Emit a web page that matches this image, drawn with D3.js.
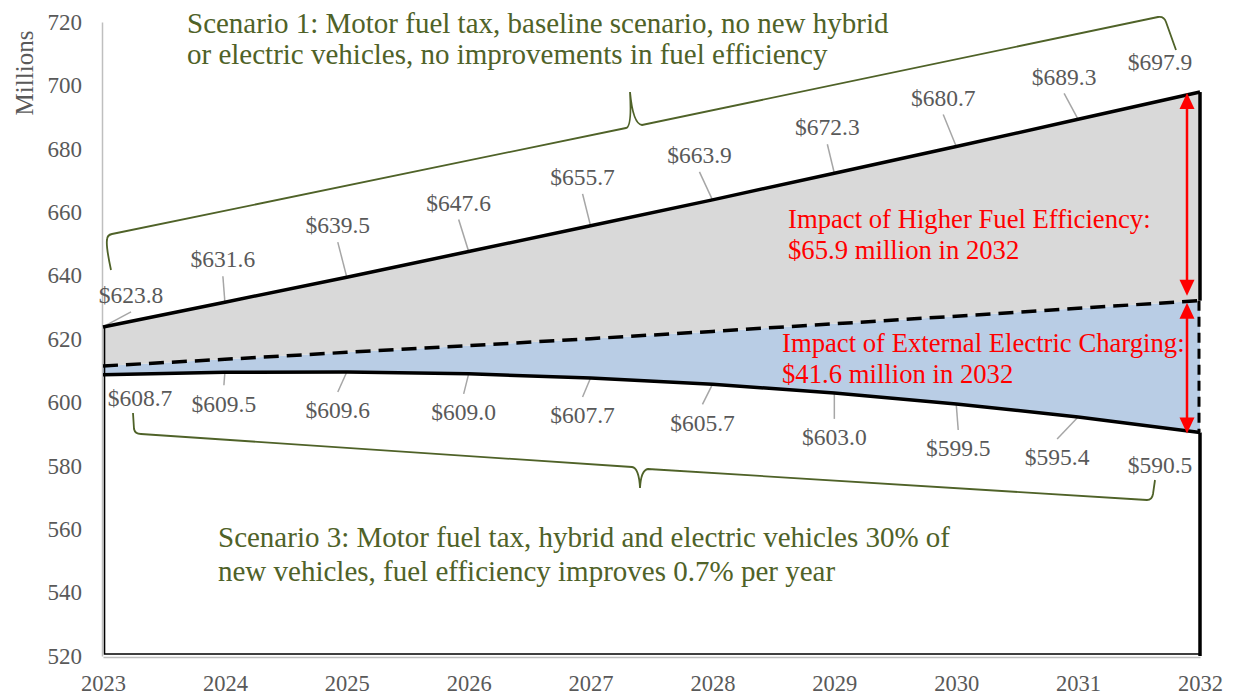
<!DOCTYPE html>
<html>
<head>
<meta charset="utf-8">
<script src="https://cdn.jsdelivr.net/npm/d3@7"></script>
<style>
  html, body { margin: 0; padding: 0; background: #fff; }
  svg { display: block; font-family: "Liberation Serif", "Times New Roman", serif; }
  svg text { font-family: "Liberation Serif", "Times New Roman", serif; }
</style>
</head>
<body>
<svg id="chart" width="1234" height="696"></svg>
<script>
// ---------------- data ----------------
const years = [2023, 2024, 2025, 2026, 2027, 2028, 2029, 2030, 2031, 2032];
// Scenario 1: baseline (top line)
const scenario1 = [623.8, 631.6, 639.5, 647.6, 655.7, 663.9, 672.3, 680.7, 689.3, 697.9];
// Scenario 2: dashed line (no labels)
const scenario2 = [611.5, 613.6, 615.8, 617.9, 620.1, 622.4, 624.8, 627.2, 629.7, 632.1];
// Scenario 3: bottom line
const scenario3 = [608.7, 609.5, 609.6, 609.0, 607.7, 605.7, 603.0, 599.5, 595.4, 590.5];
const yTicks = [520, 540, 560, 580, 600, 620, 640, 660, 680, 700, 720];
const yDomain = [520, 720];

const scenario1Text = ["Scenario 1: Motor fuel tax, baseline scenario, no new hybrid",
                       "or electric vehicles, no improvements in fuel efficiency"];
const scenario3Text = ["Scenario 3: Motor fuel tax, hybrid and electric vehicles 30% of",
                       "new vehicles, fuel efficiency improves 0.7% per year"];
const impact1Text = ["Impact of Higher Fuel Efficiency:", "$65.9 million in 2032"];
const impact2Text = ["Impact of External Electric Charging:", "$41.6 million in 2032"];

// label placement (pixel offsets from each point to the label centre)
const topLabelOffsets = [[28,-32],[-2,-43],[-9,-52],[-10,-49],[-8,-49],[-13,-45],[-7,-46],[-13,-49],[-14,-43],[-40,-30]];
const topLeader =       [true,true,true,true,true,true,true,true,true,false];
const botLabelOffsets = [[37,23],[-1,31],[-9,38],[-5,38],[-8,37],[-10,38],[0,44],[2,44],[-21,40],[-40,32]];
const botLeader =       [false,true,true,true,true,true,true,true,true,false];

// ---------------- layout ----------------
const svg = d3.select("#chart");
const x = d3.scaleLinear().domain([2023, 2032]).range([103, 1200]);
const y = d3.scaleLinear().domain(yDomain).range([656, 22]);

const GREEN = "#4f6228", GREY_TXT = "#595959", RED = "#ff0000";

const rows = years.map((yr, i) => ({yr, s1: scenario1[i], s2: scenario2[i], s3: scenario3[i], i}));

// white area (scenario 3 down to axis)
svg.append("path")
  .datum(rows)
  .attr("d", d3.area().x(d => x(d.yr)).y0(y(520)).y1(d => y(d.s3)))
  .attr("fill", "#fff");

// blue area (between scenario 3 and scenario 2)
svg.append("path")
  .datum(rows)
  .attr("d", d3.area().x(d => x(d.yr)).y0(d => y(d.s3)).y1(d => y(d.s2)))
  .attr("fill", "#b9cde5");

// grey area (between scenario 2 and scenario 1)
svg.append("path")
  .datum(rows)
  .attr("d", d3.area().x(d => x(d.yr)).y0(d => y(d.s2)).y1(d => y(d.s1)))
  .attr("fill", "#d9d9d9");

// left / bottom thin black outline of the stacked areas
svg.append("path")
  .attr("d", `M${x(2023)+1.5},${y(scenario1[0])} L${x(2023)+1.5},${y(520)-2} L${x(2032)},${y(520)-2}`)
  .attr("fill", "none").attr("stroke", "#000").attr("stroke-width", 1.6);

// right edges at 2032
const xr = x(2032);
svg.append("line").attr("x1", xr).attr("x2", xr).attr("y1", y(scenario1[9])).attr("y2", y(scenario2[9]))
  .attr("stroke", "#000").attr("stroke-width", 3.5);
svg.append("line").attr("x1", xr-1).attr("x2", xr-1).attr("y1", y(scenario2[9])).attr("y2", y(scenario3[9]))
  .attr("stroke", "#000").attr("stroke-width", 3).attr("stroke-dasharray", "10,6");
svg.append("line").attr("x1", xr).attr("x2", xr).attr("y1", y(scenario3[9])).attr("y2", y(520))
  .attr("stroke", "#000").attr("stroke-width", 3.5);

// axes
const yAxis = svg.append("g").attr("transform", `translate(${x(2023)-1},0)`)
  .call(d3.axisLeft(y).tickValues(yTicks).tickSize(0).tickPadding(20).tickFormat(d3.format("d")));
yAxis.attr("font-family", null);
yAxis.select(".domain").attr("stroke", "#bfbfbf").attr("stroke-width", 1.5);
yAxis.selectAll("text").attr("fill", GREY_TXT).style("font-size", "23px");

const xAxis = svg.append("g").attr("transform", `translate(0,${y(520)+1})`)
  .call(d3.axisBottom(x).tickValues(years).tickSize(0).tickPadding(18).tickFormat(d3.format("d")));
xAxis.attr("font-family", null);
xAxis.select(".domain").attr("stroke", "#bfbfbf").attr("stroke-width", 1.5);
xAxis.selectAll("text").attr("fill", GREY_TXT).style("font-size", "22.5px");

svg.append("text")
  .attr("transform", `translate(33,73) rotate(-90)`)
  .attr("text-anchor", "middle")
  .attr("fill", GREY_TXT).style("font-size", "25px")
  .text("Millions");

// leader lines
const leaders = svg.append("g").attr("stroke", "#a6a6a6").attr("stroke-width", 1.5);
rows.forEach(d => {
  const px = x(d.yr);
  if (topLeader[d.i]) {
    const py = y(d.s1), o = topLabelOffsets[d.i];
    leaders.append("line").attr("x1", px + o[0]).attr("y1", py + o[1] + 17).attr("x2", px).attr("y2", py);
  }
  if (botLeader[d.i]) {
    const py = y(d.s3), o = botLabelOffsets[d.i];
    leaders.append("line").attr("x1", px).attr("y1", py).attr("x2", px + o[0]).attr("y2", py + o[1] - 18);
  }
});

// lines
const lineGen = key => d3.line().x(d => x(d.yr)).y(d => y(d[key]));
svg.append("path").datum(rows).attr("d", lineGen("s2"))
  .attr("fill", "none").attr("stroke", "#000").attr("stroke-width", 3.5).attr("stroke-dasharray", "15,8");
svg.append("path").datum(rows).attr("d", lineGen("s3"))
  .attr("fill", "none").attr("stroke", "#000").attr("stroke-width", 3.5);
svg.append("path").datum(rows).attr("d", lineGen("s1"))
  .attr("fill", "none").attr("stroke", "#000").attr("stroke-width", 3.5);

// data labels
const fmt = v => "$" + d3.format(".1f")(v);
const lbl = svg.append("g").attr("fill", GREY_TXT).style("font-size", "23.5px").attr("text-anchor", "middle");
rows.forEach(d => {
  const px = x(d.yr);
  let o = topLabelOffsets[d.i];
  lbl.append("text").attr("x", px + o[0]).attr("y", y(d.s1) + o[1]).attr("dy", "0.35em").text(fmt(d.s1));
  o = botLabelOffsets[d.i];
  lbl.append("text").attr("x", px + o[0]).attr("y", y(d.s3) + o[1]).attr("dy", "0.35em").text(fmt(d.s3));
});

// braces
svg.append("path")
  .attr("d", "M111,270 C108,256 106,246 107,240 Q107,235 112,234 L626,128 Q632,127 630,92 Q633,124 642,125 L1158,17 Q1164,16 1166,22 L1176,50")
  .attr("fill", "none").attr("stroke", GREEN).attr("stroke-width", 1.8);
svg.append("path")
  .attr("d", "M133,413 L134,429 Q135,434 141,434 L632,467 Q639,468 640,488 Q641,470 648,469 L1147,500 Q1152,500 1153,494 L1155,480")
  .attr("fill", "none").attr("stroke", GREEN).attr("stroke-width", 1.8);

// scenario texts
const sc1 = svg.append("text").attr("fill", GREEN).style("font-size", "29px");
scenario1Text.forEach((t, k) => sc1.append("tspan").attr("x", 187).attr("y", 33 + k * 31).text(t));
const sc3 = svg.append("text").attr("fill", GREEN).style("font-size", "29px");
scenario3Text.forEach((t, k) => sc3.append("tspan").attr("x", 218).attr("y", 547 + k * 34).text(t));

// impact texts
const im1 = svg.append("text").attr("fill", RED).style("font-size", "26.7px");
impact1Text.forEach((t, k) => im1.append("tspan").attr("x", 788).attr("y", 228 + k * 31).text(t));
const im2 = svg.append("text").attr("fill", RED).style("font-size", "26.7px");
impact2Text.forEach((t, k) => im2.append("tspan").attr("x", 782).attr("y", 352 + k * 31).text(t));

// red double arrows
function doubleArrow(xp, yTop, yBot) {
  const g = svg.append("g");
  const head = 16, half = 7.5;
  g.append("line").attr("x1", xp).attr("x2", xp).attr("y1", yTop + head - 2).attr("y2", yBot - head + 2)
    .attr("stroke", RED).attr("stroke-width", 2.5);
  g.append("path").attr("d", `M${xp},${yTop} L${xp-half},${yTop+head} L${xp+half},${yTop+head} Z`).attr("fill", RED);
  g.append("path").attr("d", `M${xp},${yBot} L${xp-half},${yBot-head} L${xp+half},${yBot-head} Z`).attr("fill", RED);
}
const xa = x(2032) - 13;
doubleArrow(xa, y(scenario1[9]) + 1, y(scenario2[9]) - 5);
doubleArrow(xa, y(scenario2[9]) + 2, y(scenario3[9]) + 1);
</script>
</body>
</html>
